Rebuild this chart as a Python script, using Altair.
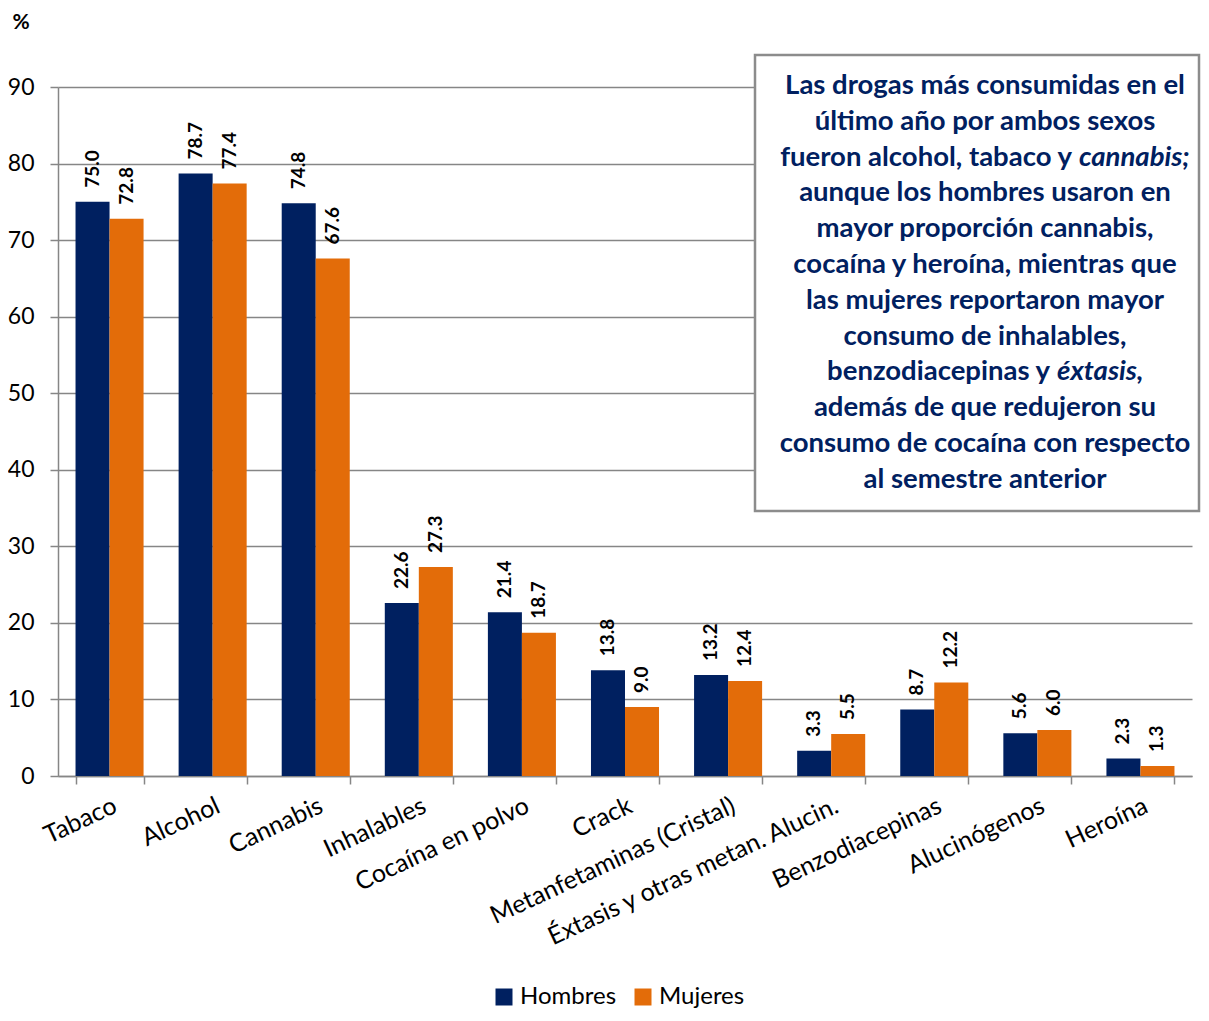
import altair as alt
import pandas as pd

categories = ["Tabaco", "Alcohol", "Cannabis", "Inhalables", "Cocaína en polvo", "Crack",
              "Metanfetaminas (Cristal)", "Éxtasis y otras metan. Alucin.", "Benzodiacepinas",
              "Alucinógenos", "Heroína"]
hombres = [75.0, 78.7, 74.8, 22.6, 21.4, 13.8, 13.2, 3.3, 8.7, 5.6, 2.3]
mujeres = [72.8, 77.4, 67.6, 27.3, 18.7, 9.0, 12.4, 5.5, 12.2, 6.0, 1.3]
series = ["Hombres", "Mujeres"]
colors = ["#002060", "#E36C09"]
y_ticks = [0, 10, 20, 30, 40, 50, 60, 70, 80, 90]

note_lines = [
    "Las drogas más consumidas en el",
    "último año por ambos sexos",
    None,
    "aunque los hombres usaron en",
    "mayor proporción cannabis,",
    "cocaína y heroína, mientras que",
    "las mujeres reportaron mayor",
    "consumo de inhalables,",
    None,
    "además de que redujeron su",
    "consumo de cocaína con respecto",
    "al semestre anterior",
]
mixed_lines = {
    2: ("fueron alcohol, tabaco y", "cannabis;"),
    8: ("benzodiacepinas y", "éxtasis,"),
}

rows = []
for c, h, m in zip(categories, hombres, mujeres):
    rows.append({"cat": c, "sexo": series[0], "valor": h})
    rows.append({"cat": c, "sexo": series[1], "valor": m})
df = pd.DataFrame(rows)

W, H = 1134, 689
FONT = "Lato"
GRAY = "#868686"
NOTE_COLOR = "#002060"
NOTE_SIZE = 27.5

x_enc = alt.X("cat:N", sort=categories, title=None,
              scale=alt.Scale(paddingInner=0.34, paddingOuter=0.17),
              axis=alt.Axis(labelAngle=-25, labelAlign="right", labelBaseline="top",
                            labelFont=FONT, labelFontSize=25, labelColor="black",
                            labelPadding=9, labelLimit=500, tickBand="extent",
                            tickSize=8, tickColor=GRAY, tickWidth=1.5,
                            domainColor=GRAY, domainWidth=1.5))
y_enc = alt.Y("valor:Q", scale=alt.Scale(domain=[0, 90], nice=False),
              axis=alt.Axis(values=y_ticks, title="%", titleAngle=0, titleX=-46, titleY=-65,
                            titleAlign="left", titleBaseline="middle", titleFont=FONT,
                            titleFontSize=21, titleFontWeight="bold", titleColor="black",
                            labelFont=FONT, labelFontSize=23, labelColor="black",
                            labelPadding=16, tickSize=8, tickColor=GRAY, tickWidth=1.5,
                            grid=True, gridColor=GRAY, gridWidth=1.3,
                            domainColor=GRAY, domainWidth=1.5))
xoff = alt.XOffset("sexo:N", sort=series, scale=alt.Scale(paddingInner=0, paddingOuter=0))

base = alt.Chart(df)
bars = base.mark_bar().encode(
    x=x_enc, xOffset=xoff, y=y_enc,
    color=alt.Color("sexo:N", scale=alt.Scale(domain=series, range=colors),
                    legend=alt.Legend(title=None, orient="none", legendX=434, legendY=898,
                                      direction="horizontal", symbolType="square",
                                      symbolSize=289, symbolStrokeWidth=0,
                                      labelFont=FONT, labelFontSize=24, labelColor="black",
                                      columnPadding=14, labelOffset=4)),
)
labels = base.mark_text(angle=270, align="left", baseline="middle", dx=14, font=FONT,
                        fontSize=19, fontWeight="bold", color="black").encode(
    x=x_enc, xOffset=xoff, y=y_enc, text=alt.Text("valor:Q", format=".1f"))

one = alt.Data(values=[{}])
box = alt.Chart(one).mark_rect(fill="white", stroke="#8c8c8c", strokeWidth=2.5).encode(
    x=alt.value(697), x2=alt.value(1141), y=alt.value(-32), y2=alt.value(424))

texts = []
cx = 927
for i, line in enumerate(note_lines):
    yy = -1 + 35.8 * i
    if line is not None:
        texts.append(alt.Chart(one).mark_text(text=line, font=FONT, fontSize=NOTE_SIZE,
                                              fontWeight="bold", color=NOTE_COLOR,
                                              align="center", baseline="middle")
                     .encode(x=alt.value(cx), y=alt.value(yy)))
    else:
        left, ital = mixed_lines[i]
        split = 1014 if i == 2 else 992
        texts.append(alt.Chart(one).mark_text(text=left, font=FONT, fontSize=NOTE_SIZE,
                                              fontWeight="bold", color=NOTE_COLOR,
                                              align="right", baseline="middle")
                     .encode(x=alt.value(split), y=alt.value(yy)))
        texts.append(alt.Chart(one).mark_text(text=ital, font=FONT, fontSize=NOTE_SIZE,
                                              fontWeight="bold", fontStyle="italic",
                                              color=NOTE_COLOR, align="left", baseline="middle")
                     .encode(x=alt.value(split + 7), y=alt.value(yy)))

chart = alt.layer(bars, labels, box, *texts).properties(
    width=W, height=H,
    autosize=alt.AutoSizeParams(type="none"),
    padding={"left": 50, "top": 79, "right": 9, "bottom": 236},
).configure_view(stroke=None)

chart.save("out.html", embed_options={"renderer": "svg", "actions": False})
